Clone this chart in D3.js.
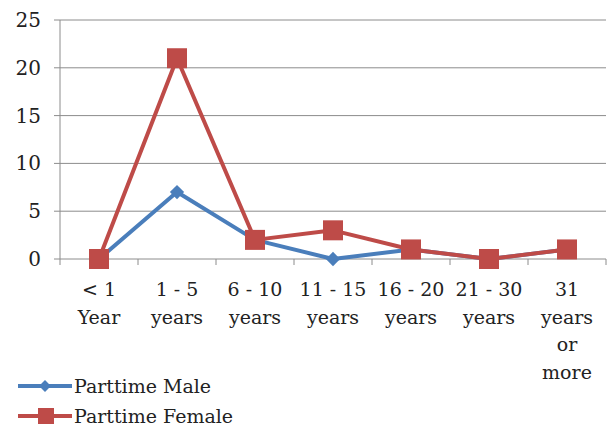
<!DOCTYPE html>
<html>
<head>
<meta charset="utf-8">
<script src="https://cdn.jsdelivr.net/npm/d3@7"></script>
<style>
  body { margin: 0; background: #fff; }
  svg text { font-family: "DejaVu Serif", serif; fill: #222; }
</style>
</head>
<body>
<svg id="chart"></svg>
<script>
// jshint esversion : 6
const categories = [
  ['< 1', 'Year'],
  ['1 - 5', 'years'],
  ['6 - 10', 'years'],
  ['11 - 15', 'years'],
  ['16 - 20', 'years'],
  ['21 - 30', 'years'],
  ['31', 'years', 'or', 'more']
];
const maleValues = [0, 7, 2, 0, 1, 0, 1];
const femaleValues = [0, 21, 2, 3, 1, 0, 1];
const yTicks = [0, 5, 10, 15, 20, 25];

const width = 609, height = 436;
const plotLeft = 60, plotRight = 606, plotTop = 20, plotBottom = 259;

let svg = d3.select('#chart').attr('width', width).attr('height', height);

let x = d3.scaleBand()
  .domain(d3.range(categories.length))
  .range([plotLeft, plotRight]);
let y = d3.scaleLinear().domain([0, 25]).range([plotBottom, plotTop]);

// gridlines + y labels
svg.append('g')
  .selectAll('line')
  .data(yTicks)
  .enter()
  .append('line')
  .attr('x1', plotLeft - 6)
  .attr('x2', plotRight)
  .attr('y1', d => y(d))
  .attr('y2', d => y(d))
  .attr('stroke', '#8c8c8c')
  .attr('stroke-width', 1);

svg.append('g')
  .selectAll('text')
  .data(yTicks)
  .enter()
  .append('text')
  .attr('x', 41)
  .attr('y', d => y(d) + 7)
  .attr('text-anchor', 'end')
  .style('font-size', '20px')
  .text(d => d);

// y axis line
svg.append('line')
  .attr('x1', plotLeft).attr('x2', plotLeft)
  .attr('y1', plotTop).attr('y2', plotBottom)
  .attr('stroke', '#8c8c8c');

// x ticks
svg.append('g')
  .selectAll('line')
  .data(d3.range(categories.length + 1))
  .enter()
  .append('line')
  .attr('x1', i => plotLeft + i * x.bandwidth())
  .attr('x2', i => plotLeft + i * x.bandwidth())
  .attr('y1', plotBottom)
  .attr('y2', plotBottom + 6)
  .attr('stroke', '#8c8c8c');

// x labels
let xl = svg.append('g')
  .selectAll('text')
  .data(categories)
  .enter()
  .append('text')
  .attr('text-anchor', 'middle')
  .style('font-size', '19px')
  .attr('x', (d, i) => x(i) + x.bandwidth() / 2)
  .attr('y', 296);
xl.selectAll('tspan')
  .data(d => d)
  .enter()
  .append('tspan')
  .attr('x', function () { return d3.select(this.parentNode).attr('x'); })
  .attr('dy', (d, i) => i === 0 ? 0 : 27.5)
  .text(d => d);

let line = d3.line()
  .x((d, i) => x(i) + x.bandwidth() / 2)
  .y(d => y(d));

const blue = '#4a7ebb', red = '#be4b48';

// male series
svg.append('path')
  .datum(maleValues)
  .attr('fill', 'none')
  .attr('stroke', blue)
  .attr('stroke-width', 4)
  .attr('stroke-linejoin', 'round')
  .attr('d', line);

let diamond = d3.symbol().type(d3.symbolDiamond2).size(130);
svg.append('g')
  .selectAll('path')
  .data(maleValues)
  .enter()
  .append('path')
  .attr('d', diamond)
  .attr('fill', blue)
  .attr('transform', (d, i) => 'translate(' + (x(i) + x.bandwidth() / 2) + ',' + y(d) + ')');

// female series
svg.append('path')
  .datum(femaleValues)
  .attr('fill', 'none')
  .attr('stroke', red)
  .attr('stroke-width', 4)
  .attr('stroke-linejoin', 'round')
  .attr('d', line);

svg.append('g')
  .selectAll('rect')
  .data(femaleValues)
  .enter()
  .append('rect')
  .attr('x', (d, i) => x(i) + x.bandwidth() / 2 - 10)
  .attr('y', d => y(d) - 10)
  .attr('width', 20)
  .attr('height', 20)
  .attr('fill', red);

// legend
let legend = [
  { name: 'Parttime Male', color: blue, shape: 'diamond', y: 386 },
  { name: 'Parttime Female', color: red, shape: 'square', y: 416 }
];
let lg = svg.append('g')
  .selectAll('g')
  .data(legend)
  .enter()
  .append('g')
  .attr('transform', d => 'translate(0,' + d.y + ')');
lg.append('line')
  .attr('x1', 18).attr('x2', 72)
  .attr('stroke', d => d.color)
  .attr('stroke-width', 4);
lg.filter(d => d.shape === 'diamond')
  .append('path')
  .attr('d', d3.symbol().type(d3.symbolDiamond2).size(90))
  .attr('transform', 'translate(45,0)')
  .attr('fill', d => d.color);
lg.filter(d => d.shape === 'square')
  .append('rect')
  .attr('x', 38).attr('y', -8)
  .attr('width', 16).attr('height', 16)
  .attr('fill', d => d.color);
lg.append('text')
  .attr('x', 74)
  .attr('y', 7)
  .style('font-size', '19px')
  .text(d => d.name);
</script>
</body>
</html>
